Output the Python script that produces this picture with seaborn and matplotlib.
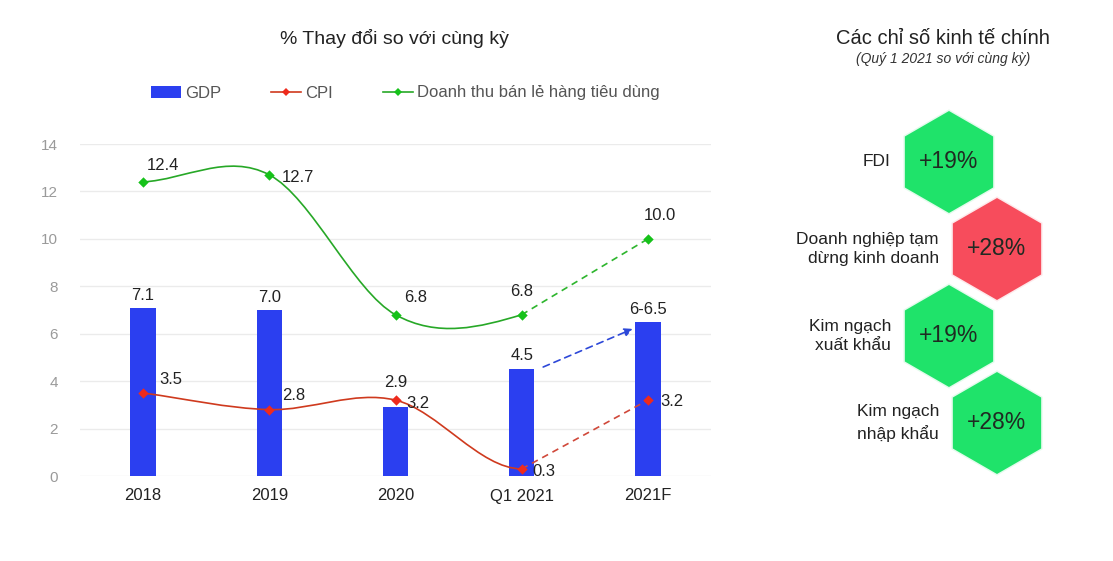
## bar + smooth line chart with a hexagon panel on the right
import matplotlib
matplotlib.use("Agg")
import numpy as np
import pandas as pd
import matplotlib.pyplot as plt
from matplotlib.path import Path
from matplotlib.patches import PathPatch, Patch
from matplotlib.lines import Line2D
import seaborn as sns

## data
periods = ["2018", "2019", "2020", "Q1 2021", "2021F"]
gdp = [7.1, 7.0, 2.9, 4.5, 6.5]
gdp_labels = ["7.1", "7.0", "2.9", "4.5", "6-6.5"]
cpi = [3.5, 2.8, 3.2, 0.3, 3.2]
retail = [12.4, 12.7, 6.8, 6.8, 10.0]
n_actual = 4  # points after this are forecasts, drawn dashed

indicators = ["FDI", "Doanh nghiệp tạm\ndừng kinh doanh",
              "Kim ngạch\nxuất khẩu", "Kim ngạch\nnhập khẩu"]
indicator_values = [19, 28, 19, 28]
indicator_good = [True, False, True, True]

## styles / layout
BLUE = "#2b3ff0"
RED_LINE = "#cf3a1e"
RED_MARK = "#ee2a1c"
GREEN_LINE = "#27a827"
GREEN_MARK = "#16c21a"
HEX_GREEN = "#1fe36a"
HEX_RED = "#f74c5c"
# label offsets in pixels (dx, dy), text left-aligned
cpi_offsets = [(16, 13), (13, 14), (11, -3), (11, -3), (12, -1)]
retail_offsets = [(4, 16), (12, -3), (9, 17), (-12, 23), (-4, 23)]
gdp_offsets = [5, 5, 17, 6, 5]
hex_col = [0, 1, 0, 1]

plt.rcParams['font.family'] = ['Liberation Sans', 'DejaVu Sans']


def smooth_path(ys, n):
    # cubic bezier through the points, catmull-rom style tangents
    ys = np.asarray(ys, float)
    m = np.zeros_like(ys)
    m[1:-1] = (ys[2:] - ys[:-2]) / 2
    m[0] = ys[1] - ys[0]
    m[-1] = ys[-1] - ys[-2]
    verts = [(0, ys[0])]
    codes = [Path.MOVETO]
    for i in range(n - 1):
        verts += [(i + 1 / 3, ys[i] + m[i] / 3),
                  (i + 1 - 1 / 3, ys[i + 1] - m[i + 1] / 3),
                  (i + 1, ys[i + 1])]
        codes += [Path.CURVE4] * 3
    return Path(verts, codes)


fig = plt.figure(figsize=(11.13, 5.61), dpi=100)
W, H = 1113, 561
ax = fig.add_axes([80 / W, 1 - 476 / H, (711 - 80) / W, (476 - 144) / H])

df = pd.DataFrame({"period": periods, "gdp": gdp, "cpi": cpi, "retail": retail})
df["pos"] = range(len(df))

sns.barplot(data=df, x="period", y="gdp", color=BLUE, width=0.2,
            saturation=1, ax=ax, zorder=2)

# smooth solid parts
ax.add_patch(PathPatch(smooth_path(cpi, n_actual), fill=False, ec=RED_LINE, lw=1.2, zorder=3))
ax.add_patch(PathPatch(smooth_path(retail, n_actual), fill=False, ec=GREEN_LINE, lw=1.2, zorder=3))
# dashed forecast parts
fc = df.iloc[n_actual - 1:]
sns.lineplot(data=fc, x="pos", y="cpi", color="#d0483a", lw=1.2, linestyle=(0, (4, 3)), ax=ax, zorder=3)
sns.lineplot(data=fc, x="pos", y="retail", color="#2db52d", lw=1.2, linestyle=(0, (4, 3)), ax=ax, zorder=3)
# markers
sns.scatterplot(data=df, x="pos", y="cpi", marker="D", s=28, color=RED_MARK, linewidth=0, ax=ax, zorder=4)
sns.scatterplot(data=df, x="pos", y="retail", marker="D", s=28, color=GREEN_MARK, linewidth=0, ax=ax, zorder=4)

# blue forecast arrow
ax.annotate("", xy=(3.9, 6.25), xytext=(3.15, 4.55),
            arrowprops=dict(arrowstyle="-|>", color="#2d48d8", lw=1.2,
                            linestyle=(0, (4, 3)), mutation_scale=12), zorder=5)

# data labels
for i, (v, lab) in enumerate(zip(gdp, gdp_labels)):
    ax.annotate(lab, (i, v), xytext=(0, gdp_offsets[i]), textcoords="offset pixels",
                ha="center", va="bottom", fontsize=12, color="#222222")
for i, v in enumerate(cpi):
    ax.annotate(f"{v:.1f}", (i, v), xytext=cpi_offsets[i], textcoords="offset pixels",
                ha="left", va="center", fontsize=12, color="#222222", zorder=6)
for i, v in enumerate(retail):
    ax.annotate(f"{v:.1f}", (i, v), xytext=retail_offsets[i], textcoords="offset pixels",
                ha="left", va="center", fontsize=12, color="#222222", zorder=6)

ax.set_xlim(-0.5, 4.5)
ax.set_ylim(0, 14)
ax.set_yticks(range(0, 15, 2))
ax.set_xlabel("")
ax.set_ylabel("")
ax.grid(axis="y", color="#ebebeb", lw=1, zorder=0)
ax.set_axisbelow(True)
for s in ax.spines.values():
    s.set_visible(False)
ax.tick_params(axis="y", length=0, pad=16, labelsize=11, labelcolor="#9a9a9a")
ax.tick_params(axis="x", length=0, pad=9, labelsize=12, labelcolor="#222222")

fig.text(394 / W, 1 - 38 / H, "% Thay đổi so với cùng kỳ", ha="center", va="center",
         fontsize=14, color="#222222")

handles = [Patch(facecolor=BLUE, edgecolor="none"),
           Line2D([], [], color=RED_LINE, lw=1.2, marker="D", markersize=4,
                  markerfacecolor=RED_MARK, markeredgewidth=0),
           Line2D([], [], color=GREEN_LINE, lw=1.2, marker="D", markersize=4,
                  markerfacecolor=GREEN_MARK, markeredgewidth=0)]
leg = fig.legend(handles, ["GDP", "CPI", "Doanh thu bán lẻ hàng tiêu dùng"],
                 loc="center", bbox_to_anchor=(405 / W, 1 - 93 / H), ncol=3,
                 frameon=False, fontsize=12, handlelength=1.8, handletextpad=0.25,
                 columnspacing=3.0)
for t in leg.get_texts():
    t.set_color("#555555")

## right panel: hexagons
ax2 = fig.add_axes([760 / W, 0, 353 / W, 1])
ax2.axis("off")

hex_df = pd.DataFrame({"col": hex_col, "row": range(len(indicators)),
                       "good": indicator_good})
pal = {True: HEX_GREEN, False: HEX_RED}
sns.scatterplot(data=hex_df, x="col", y="row", hue="good", palette=pal, marker="h",
                s=5750, alpha=0.12, linewidth=0, legend=False, ax=ax2)
sns.scatterplot(data=hex_df, x="col", y="row", hue="good", palette=pal, marker="h",
                s=5390, linewidth=0, legend=False, ax=ax2)
ax2.set_xlim((760 - 949) / 48, (1113 - 949) / 48)
ax2.set_ylim((561 - 162) / 87, -162 / 87)

for r, (name, v) in enumerate(zip(indicators, indicator_values)):
    c = hex_col[r]
    ax2.text(c, r, f"+{v}%", ha="center", va="center", fontsize=16.5, color="#1f2a22")
    ax2.annotate(name, (c, r), xytext=(-58, 0), textcoords="offset pixels",
                 ha="right", va="center", multialignment="right", linespacing=1.4,
                 fontsize=12.5, color="#222222")

fig.text(943 / W, 1 - 38 / H, "Các chỉ số kinh tế chính", ha="center", va="center",
         fontsize=14.5, color="#222222")
fig.text(943 / W, 1 - 59 / H, "(Quý 1 2021 so với cùng kỳ)", ha="center", va="center",
         fontsize=10, style="italic", color="#333333")

fig.savefig("out.png", dpi=100, facecolor="white")
